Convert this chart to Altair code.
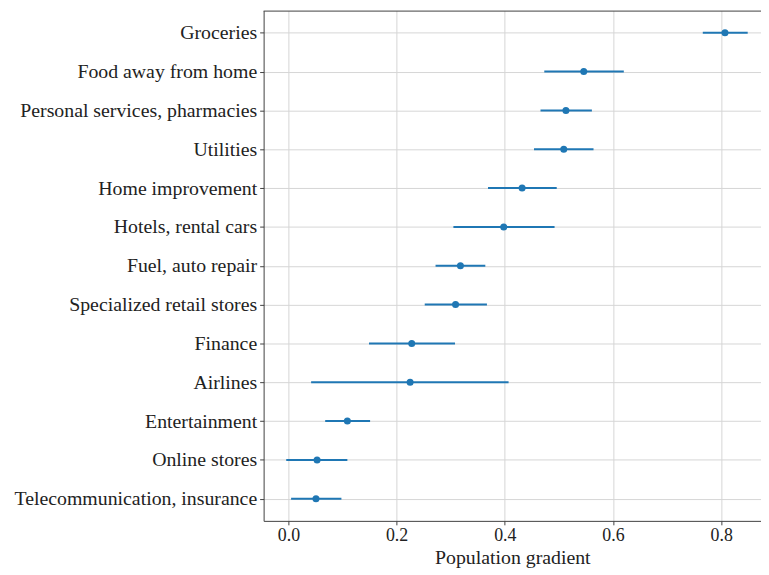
import altair as alt
import pandas as pd

categories = [
    "Groceries", "Food away from home", "Personal services, pharmacies",
    "Utilities", "Home improvement", "Hotels, rental cars",
    "Fuel, auto repair", "Specialized retail stores", "Finance",
    "Airlines", "Entertainment", "Online stores",
    "Telecommunication, insurance",
]
estimate = [0.807, 0.546, 0.513, 0.509, 0.432, 0.398, 0.318, 0.309, 0.228,
            0.225, 0.109, 0.053, 0.051]
lower = [0.766, 0.473, 0.466, 0.454, 0.369, 0.305, 0.272, 0.252, 0.149,
         0.042, 0.068, -0.004, 0.005]
upper = [0.849, 0.620, 0.561, 0.564, 0.496, 0.492, 0.364, 0.367, 0.308,
         0.407, 0.151, 0.109, 0.098]
x_ticks = [0.0, 0.2, 0.4, 0.6, 0.8]

df = pd.DataFrame({"category": categories, "estimate": estimate,
                   "lower": lower, "upper": upper})

FONT = "Liberation Serif"
BLUE = "#1f77b4"
W, H = 502, 515

xscale = alt.Scale(domain=[-0.0458, 0.8736], nice=False, zero=False)
yscale = alt.Scale(type="point", padding=0.57)

xaxis = alt.Axis(values=x_ticks, format=".1f", title="Population gradient",
                 grid=True, gridColor="#d6d6d6", gridWidth=1,
                 domainColor="#404040", tickColor="#404040", tickSize=4,
                 labelFont=FONT, labelFontSize=18, labelColor="#222222",
                 labelPadding=2, titleFont=FONT, titleFontSize=20,
                 titleFontWeight="normal", titleColor="#222222",
                 titleBaseline="alphabetic", titleY=43)
yaxis = alt.Axis(title=None, grid=True, gridColor="#d6d6d6", gridWidth=1,
                 domainColor="#404040", tickColor="#404040", tickSize=4,
                 labelFont=FONT, labelFontSize=20, labelColor="#222222",
                 labelPadding=3, labelLimit=0)

base = alt.Chart(df)

bars = base.mark_rule(color=BLUE, strokeWidth=2).encode(
    x=alt.X("lower:Q", scale=xscale, axis=xaxis),
    x2="upper:Q",
    y=alt.Y("category:N", sort=categories, scale=yscale, axis=yaxis),
)
points = base.mark_circle(color=BLUE, size=50, opacity=1).encode(
    x=alt.X("estimate:Q", scale=xscale),
    y=alt.Y("category:N", sort=categories, scale=yscale),
)
top = alt.Chart(pd.DataFrame({"a": [0]})).mark_rule(
    color="#404040", strokeWidth=1).encode(
    x=alt.value(0), x2=alt.value(W + 2), y=alt.value(0.5))

chart = alt.layer(bars, points, top).properties(
    width=W, height=H,
    autosize=alt.AutoSizeParams(type="none"),
    padding={"left": 258, "top": 0, "right": 0, "bottom": 52},
).configure_view(stroke=None)

chart.save("out.html", embed_options={"renderer": "svg", "actions": False})
